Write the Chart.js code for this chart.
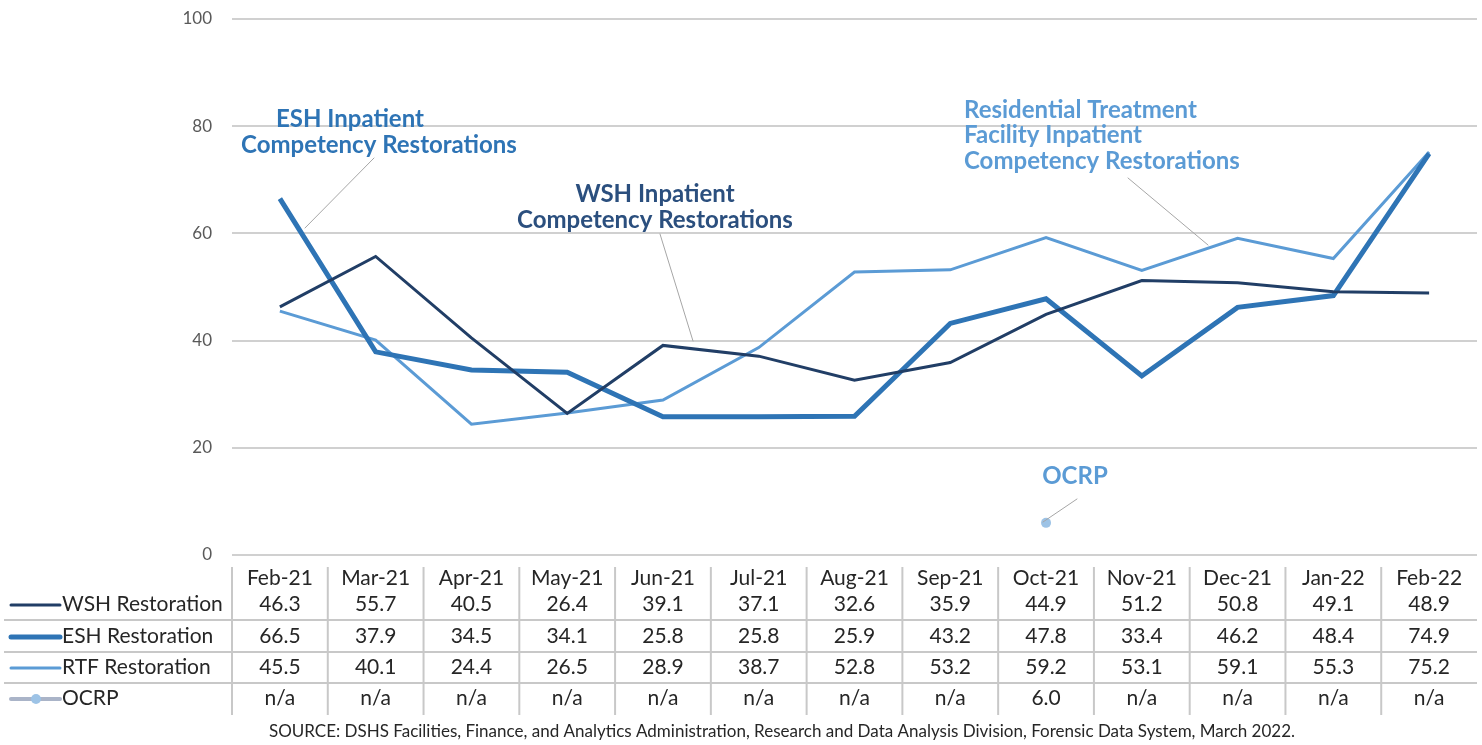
<!DOCTYPE html>
<html>
<head>
<meta charset="utf-8">
<script src="https://cdn.jsdelivr.net/npm/chart.js@4.4.1/dist/chart.umd.min.js"></script>
<style>
    html, body { margin: 0; padding: 0; background: #fff; }
    #wrap { width: 1482px; height: 745px; }
</style>
</head>
<body>
<div id="wrap"><canvas id="restorationChart" width="1482" height="745"></canvas></div>
<script>
const months = ["Feb-21", "Mar-21", "Apr-21", "May-21", "Jun-21", "Jul-21", "Aug-21", "Sep-21", "Oct-21", "Nov-21", "Dec-21", "Jan-22", "Feb-22"];
const wshValues = [46.3, 55.7, 40.5, 26.4, 39.1, 37.1, 32.6, 35.9, 44.9, 51.2, 50.8, 49.1, 48.9];
const eshValues = [66.5, 37.9, 34.5, 34.1, 25.8, 25.8, 25.9, 43.2, 47.8, 33.4, 46.2, 48.4, 74.9];
const rtfValues = [45.5, 40.1, 24.4, 26.5, 28.9, 38.7, 52.8, 53.2, 59.2, 53.1, 59.1, 55.3, 75.2];
const ocrpValues = [null, null, null, null, null, null, null, null, 6.0, null, null, null, null];
const yTicks = [0, 20, 40, 60, 80, 100];

const FONT = "Lato, 'Open Sans', sans-serif";
const colors = {
    wsh: "#213e66",
    esh: "#2e74b5",
    rtf: "#5b9bd5",
    ocrp: "#9dc3e6",
    ocrpLegend: "#aab4c8",
    grid: "#d0d0d0"
};

const rows = [
    { label: "WSH Restoration", values: wshValues, color: colors.wsh, width: 3 },
    { label: "ESH Restoration", values: eshValues, color: colors.esh, width: 5 },
    { label: "RTF Restoration", values: rtfValues, color: colors.rtf, width: 3 },
    { label: "OCRP", values: ocrpValues, color: colors.ocrpLegend, width: 4, marker: true }
];

// labels with leader lines, in pixel positions
const callouts = [
    { lines: [["ESH Inpatient", 350, 119], ["Competency Restorations", 379, 145]], color: colors.esh, align: "center", leader: [305, 228, 374, 158] },
    { lines: [["WSH Inpatient", 655, 194], ["Competency Restorations", 655, 220]], color: "#2b4f7e", align: "center", leader: [693, 341, 660, 234] },
    { lines: [["Residential Treatment", 964, 110], ["Facility Inpatient", 964, 135], ["Competency Restorations", 964, 161]], color: colors.rtf, align: "left", leader: [1208, 245, 1128, 178] },
    { lines: [["OCRP", 1075, 476]], color: colors.rtf, align: "center", leader: [1043, 522, 1077, 499] }
];

const tablePlugin = {
    id: "dataTable",
    afterDraw(chart) {
        const ctx = chart.ctx;
        const x = chart.scales.x;
        const area = chart.chartArea;
        const colW = (area.right - area.left) / months.length;
        const headerY = 578;
        const rowY = [604, 636, 667, 698];

        ctx.save();
        // grid lines of the table
        ctx.strokeStyle = "#c8c8c8";
        ctx.lineWidth = 2;
        for (let i = 0; i < months.length; i++) {
            const gx = area.left + i * colW;
            ctx.beginPath();
            ctx.moveTo(gx, 567);
            ctx.lineTo(gx, 715);
            ctx.stroke();
        }
        [620, 652, 683].forEach(gy => {
            ctx.beginPath();
            ctx.moveTo(4, gy);
            ctx.lineTo(area.right, gy);
            ctx.stroke();
        });

        ctx.fillStyle = "#262626";
        ctx.font = "21px " + FONT;
        ctx.textAlign = "center";
        ctx.textBaseline = "middle";
        months.forEach((m, i) => ctx.fillText(m, x.getPixelForValue(i), headerY));

        rows.forEach((row, r) => {
            const y = rowY[r];
            // legend key
            ctx.strokeStyle = row.color;
            ctx.lineWidth = row.width;
            ctx.lineCap = "round";
            ctx.beginPath();
            ctx.moveTo(11, y + 1);
            ctx.lineTo(60, y + 1);
            ctx.stroke();
            if (row.marker) {
                ctx.fillStyle = colors.ocrp;
                ctx.beginPath();
                ctx.arc(36, y + 1, 5, 0, Math.PI * 2);
                ctx.fill();
            }
            ctx.fillStyle = "#262626";
            ctx.textAlign = "left";
            ctx.fillText(row.label, 62, y);
            ctx.textAlign = "center";
            row.values.forEach((v, i) => {
                const txt = v === null ? "n/a" : v.toFixed(1);
                ctx.fillText(txt, x.getPixelForValue(i), y);
            });
        });

        ctx.font = "17px " + FONT;
        ctx.fillText("SOURCE: DSHS Facilities, Finance, and Analytics Administration, Research and Data Analysis Division, Forensic Data System, March 2022.", 782, 732);

        // callouts
        callouts.forEach(c => {
            ctx.strokeStyle = "#a6a6a6";
            ctx.lineWidth = 1;
            ctx.beginPath();
            ctx.moveTo(c.leader[0], c.leader[1]);
            ctx.lineTo(c.leader[2], c.leader[3]);
            ctx.stroke();
            ctx.fillStyle = c.color;
            ctx.font = "bold 24px " + FONT;
            ctx.textAlign = c.align;
            c.lines.forEach(l => ctx.fillText(l[0], l[1], l[2]));
        });
        ctx.restore();
    }
};

const ctx = document.getElementById("restorationChart").getContext("2d");
const restorationChart = new Chart(ctx, {
    type: "line",
    data: {
        labels: months,
        datasets: [
            { label: "WSH Restoration", data: wshValues, borderColor: colors.wsh, borderWidth: 3, pointRadius: 0, tension: 0 },
            { label: "ESH Restoration", data: eshValues, borderColor: colors.esh, borderWidth: 5, pointRadius: 0, tension: 0 },
            { label: "RTF Restoration", data: rtfValues, borderColor: colors.rtf, borderWidth: 3, pointRadius: 0, tension: 0 },
            { label: "OCRP", data: ocrpValues, borderColor: colors.ocrp, backgroundColor: colors.ocrp, showLine: false, pointRadius: 5, pointBorderWidth: 0 }
        ]
    },
    options: {
        responsive: false,
        animation: false,
        layout: { padding: { left: 0, right: 5, top: 19, bottom: 190 } },
        plugins: {
            legend: { display: false },
            tooltip: { enabled: false }
        },
        scales: {
            x: {
                display: false,
                offset: true
            },
            y: {
                min: 0,
                max: 100,
                afterFit: (scale) => {
                    scale.width = 232;
                    scale.paddingTop = 0;
                    scale.paddingBottom = 0;
                },
                afterBuildTicks: (scale) => { scale.ticks = yTicks.map(v => ({ value: v })); },
                border: { display: false },
                grid: { color: colors.grid, lineWidth: 2, drawTicks: false },
                ticks: {
                    padding: 20,
                    color: "#595959",
                    font: { family: FONT, size: 17 }
                }
            }
        }
    },
    plugins: [tablePlugin]
});
</script>
</body>
</html>
